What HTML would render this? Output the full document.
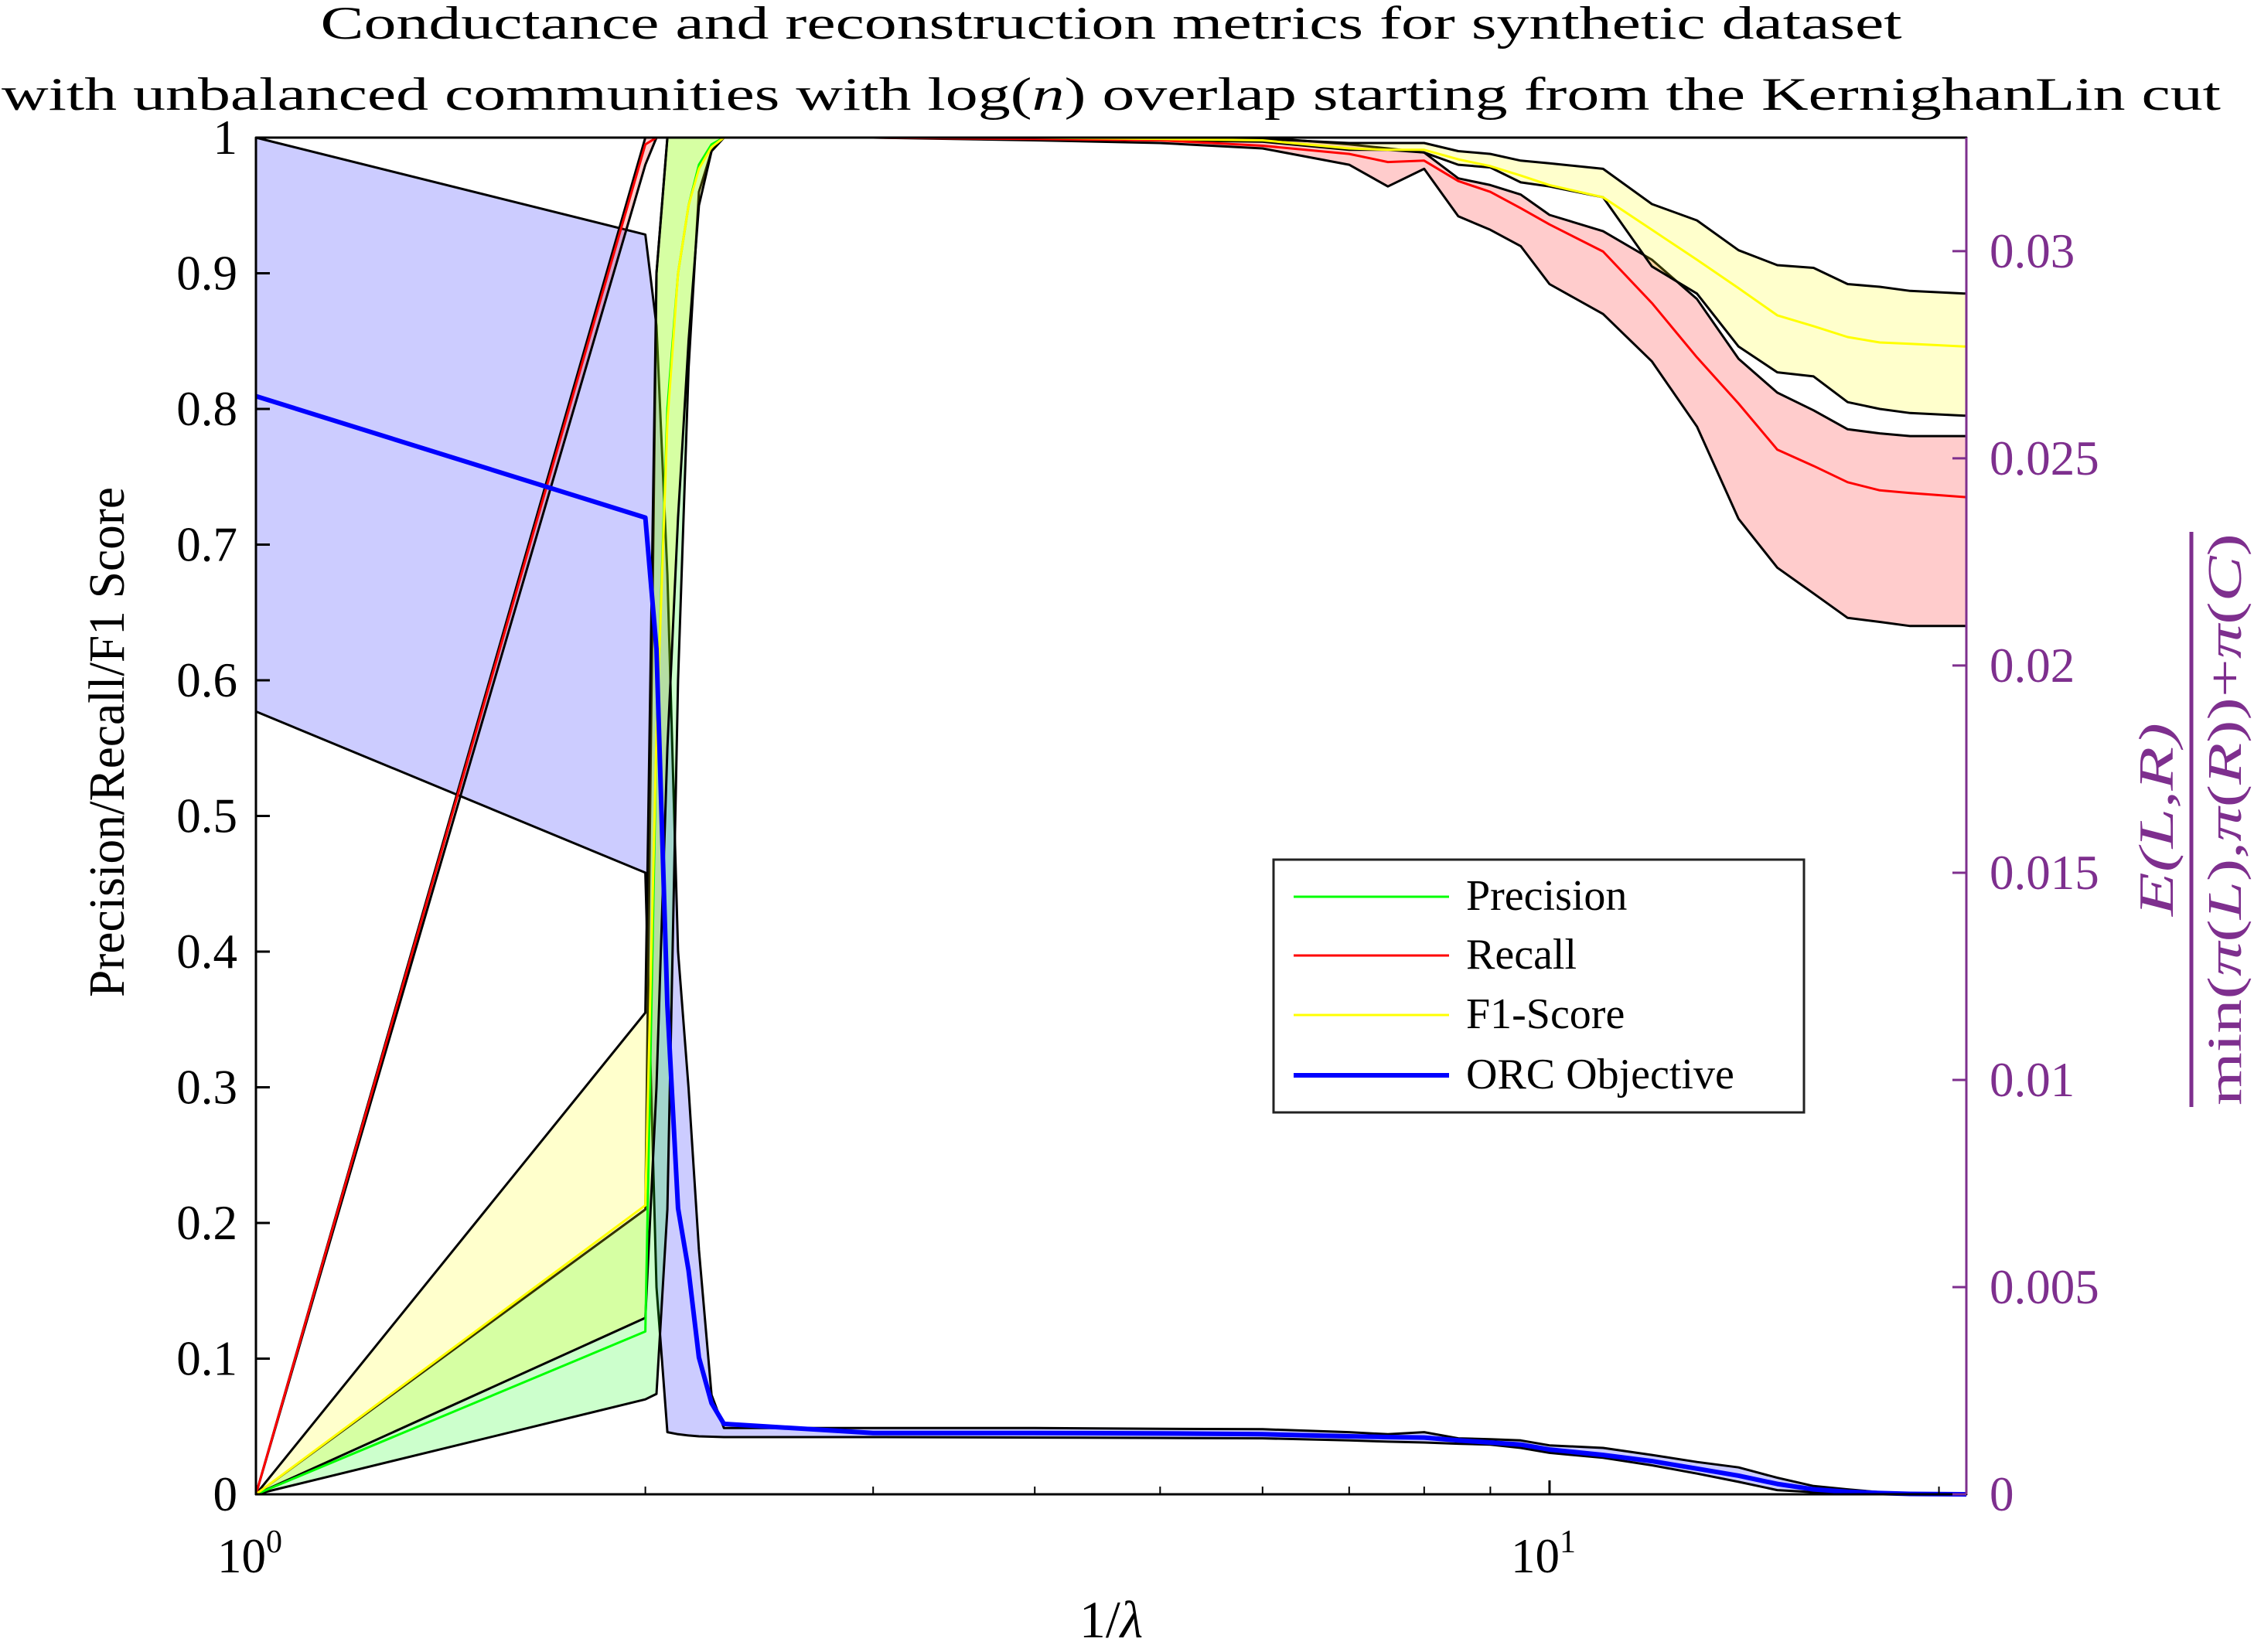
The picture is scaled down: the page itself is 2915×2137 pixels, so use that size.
<!DOCTYPE html>
<html><head><meta charset="utf-8"><style>
html,body{margin:0;padding:0;background:#fff;}
svg{display:block;}
text{font-family:"Liberation Serif",serif;}
</style></head><body>
<svg id="chart" width="2915" height="2137" viewBox="0 0 2915 2137" xmlns="http://www.w3.org/2000/svg">
<rect x="0" y="0" width="2915" height="2137" fill="#fff"/>
<g id="title">
<text x="1437" y="50" font-size="60" text-anchor="middle" textLength="2045" lengthAdjust="spacingAndGlyphs">Conductance and reconstruction metrics for synthetic dataset</text>
<text x="1437" y="142" font-size="60" text-anchor="middle" textLength="2870" lengthAdjust="spacingAndGlyphs">with unbalanced communities with log(<tspan font-style="italic">n</tspan>) overlap starting from the KernighanLin cut</text>
</g>
<g id="plot"></g>
<g id="axes"></g>
<g id="legend">
<rect x="1647" y="1112" width="686" height="327" fill="#fff" stroke="#222" stroke-width="3"/>
<g><line x1="1673" y1="1160" x2="1874" y2="1160" stroke="#00ff00" stroke-width="3"/><text x="1896" y="1177" font-size="56">Precision</text></g>
<g><line x1="1673" y1="1236" x2="1874" y2="1236" stroke="#ff0000" stroke-width="3"/><text x="1896" y="1253" font-size="56">Recall</text></g>
<g><line x1="1673" y1="1313" x2="1874" y2="1313" stroke="#ffff00" stroke-width="3"/><text x="1896" y="1330" font-size="56">F1-Score</text></g>
<g><line x1="1673" y1="1391" x2="1874" y2="1391" stroke="#0000ff" stroke-width="6"/><text x="1896" y="1408" font-size="56">ORC Objective</text></g>
</g>
</svg>
<script>
const xs = [1, 2, 2.04, 2.08, 2.12, 2.16, 2.2, 2.25, 2.3, 3, 4, 5, 6, 7, 7.5, 8, 8.5, 9, 9.5, 10, 11, 12, 13, 14, 15, 16, 17, 18, 19, 21];
const precMean = [0, 0.12, 0.56, 0.80, 0.90, 0.95, 0.98, 0.995, 1, 1, 1, 1, 1, 1, 1, 1, 1, 1, 1, 1, 1, 1, 1, 1, 1, 1, 1, 1, 1, 1];
const precUp = [0, 0.21, 0.90, 1, 1, 1, 1, 1, 1, 1, 1, 1, 1, 1, 1, 1, 1, 1, 1, 1, 1, 1, 1, 1, 1, 1, 1, 1, 1, 1];
const precLo = [0, 0.07, 0.074, 0.21, 0.60, 0.83, 0.96, 0.99, 1, 1, 1, 1, 1, 1, 1, 1, 1, 1, 1, 1, 1, 1, 1, 1, 1, 1, 1, 1, 1, 1];
const recMean = [0, 0.995, 1, 1, 1, 1, 1, 1, 1, 1, 0.999, 0.998, 0.994, 0.988, 0.982, 0.983, 0.968, 0.960, 0.948, 0.936, 0.916, 0.878, 0.838, 0.804, 0.770, 0.758, 0.746, 0.740, 0.738, 0.735];
const recUp = [0, 1, 1, 1, 1, 1, 1, 1, 1, 1, 1, 1, 1, 0.995, 0.992, 0.989, 0.970, 0.965, 0.958, 0.943, 0.931, 0.910, 0.881, 0.837, 0.812, 0.799, 0.785, 0.782, 0.780, 0.780];
const recLo = [0, 0.98, 1, 1, 1, 1, 1, 1, 1, 1, 0.998, 0.996, 0.992, 0.980, 0.964, 0.977, 0.942, 0.932, 0.920, 0.892, 0.870, 0.835, 0.787, 0.719, 0.683, 0.664, 0.646, 0.643, 0.640, 0.640];
const f1Mean = [0, 0.213, 0.56, 0.79, 0.90, 0.95, 0.977, 0.993, 1, 1, 1, 0.999, 0.998, 0.992, 0.991, 0.991, 0.984, 0.979, 0.972, 0.965, 0.956, 0.932, 0.910, 0.889, 0.869, 0.861, 0.853, 0.849, 0.848, 0.846];
const f1Up = [0, 0.355, 0.90, 1, 1, 1, 1, 1, 1, 1, 1, 1, 0.999, 0.996, 0.996, 0.996, 0.990, 0.988, 0.983, 0.981, 0.977, 0.951, 0.939, 0.917, 0.906, 0.904, 0.892, 0.890, 0.887, 0.885];
const f1Lo = [0, 0.13, 0.30, 0.55, 0.72, 0.85, 0.95, 0.99, 1, 1, 1, 0.998, 0.997, 0.991, 0.991, 0.989, 0.980, 0.978, 0.967, 0.964, 0.956, 0.905, 0.885, 0.846, 0.827, 0.824, 0.805, 0.800, 0.797, 0.795];
const orcMean = [0.0265, 0.02357, 0.0204, 0.0118, 0.0069, 0.0054, 0.0033, 0.0022, 0.0017, 0.00148, 0.00148, 0.00147, 0.00145, 0.0014, 0.00138, 0.00137, 0.0013, 0.00125, 0.0012, 0.00108, 0.00095, 0.0008, 0.00062, 0.00045, 0.00025, 0.00012, 0.00006, 0.00003, 0.00001, 0];
const orcUp = [0.03274, 0.0304, 0.0282, 0.0222, 0.0131, 0.0098, 0.0059, 0.0024, 0.0016, 0.0016, 0.0016, 0.00158, 0.00157, 0.0015, 0.00145, 0.0015, 0.00135, 0.00133, 0.0013, 0.00118, 0.00112, 0.00095, 0.00078, 0.00065, 0.0004, 0.0002, 0.00012, 0.00005, 0.00002, 0];
const orcLo = [0.01889, 0.0150, 0.005, 0.0015, 0.00145, 0.00142, 0.0014, 0.00139, 0.00138, 0.00138, 0.00137, 0.00136, 0.00135, 0.0013, 0.00127, 0.00125, 0.00122, 0.0012, 0.00112, 0.001, 0.00088, 0.0007, 0.0005, 0.0003, 0.0001, 0.00005, 0, 0, 0, 0];
const leftTicks = [0, 0.1, 0.2, 0.3, 0.4, 0.5, 0.6, 0.7, 0.8, 0.9, 1];
const leftTickLabels = ["0", "0.1", "0.2", "0.3", "0.4", "0.5", "0.6", "0.7", "0.8", "0.9", "1"];
const rightTicks = [0, 0.005, 0.01, 0.015, 0.02, 0.025, 0.03];
const rightTickLabels = ["0", "0.005", "0.01", "0.015", "0.02", "0.025", "0.03"];
const xMajor = [1, 10];
const xMinor = [2, 3, 4, 5, 6, 7, 8, 9, 20];

const L = 331, R = 2543, T = 178, B = 1933;
const XMIN = 1, XMAX = 21, RMAX = 0.03274;
const NS = "http://www.w3.org/2000/svg";
const X = v => L + (Math.log10(v) - Math.log10(XMIN)) / (Math.log10(XMAX) - Math.log10(XMIN)) * (R - L);
const Y = v => B - v * (B - T);
const YR = v => B - v / RMAX * (B - T);
const PURPLE = "#7e2f8e";
const plot = document.getElementById('plot');
const axes = document.getElementById('axes');
function mk(tag, attrs, parent) { const e = document.createElementNS(NS, tag); for (const k in attrs) e.setAttribute(k, attrs[k]); parent.appendChild(e); return e; }
function pts(arr, yf) { return arr.map((v, i) => X(xs[i]).toFixed(1) + ',' + yf(v).toFixed(1)); }
function band(up, lo, yf, fill, name) {
  const p = pts(up, yf).concat(pts(lo, yf).reverse());
  const e = mk('polygon', {points: p.join(' '), fill: fill, stroke: '#000', 'stroke-width': 3, 'stroke-linejoin': 'round'}, plot);
  
  
}
function line(arr, yf, color, w, name) {
  const e = mk('polyline', {points: pts(arr, yf).join(' '), fill: 'none', stroke: color, 'stroke-width': w, 'stroke-linejoin': 'round'}, plot);
  
  
}
band(orcUp, orcLo, YR, 'rgba(0,0,255,0.2)', 'orc-band');
band(precUp, precLo, Y, 'rgba(0,255,0,0.2)', 'precision-band');
band(recUp, recLo, Y, 'rgba(255,0,0,0.2)', 'recall-band');
band(f1Up, f1Lo, Y, 'rgba(255,255,0,0.2)', 'f1-band');
line(precMean, Y, '#00ff00', 3, 'precision-line');
line(recMean, Y, '#ff0000', 3, 'recall-line');
line(f1Mean, Y, '#ffff00', 3, 'f1-line');
line(orcMean, YR, '#0000ff', 6, 'orc-line');

let e;
e = mk('line', {x1: L, y1: T, x2: L, y2: B, stroke: '#000', 'stroke-width': 3}, axes);
 
e = mk('line', {x1: L, y1: B, x2: R, y2: B, stroke: '#000', 'stroke-width': 3}, axes);
 
e = mk('line', {x1: L, y1: T, x2: R, y2: T, stroke: '#000', 'stroke-width': 3}, axes);
 
e = mk('line', {x1: R, y1: T, x2: R, y2: B, stroke: PURPLE, 'stroke-width': 3}, axes);
 

leftTicks.forEach((v, i) => {
  const t = mk('line', {x1: L, y1: Y(v), x2: L + 18, y2: Y(v), stroke: '#000', 'stroke-width': 3}, axes);
   
  const tx = mk('text', {x: L - 24, y: Y(v) + 21, 'font-size': 63, 'text-anchor': 'end'}, axes);
  tx.textContent = leftTickLabels[i];
   
});
rightTicks.forEach((v, i) => {
  const t = mk('line', {x1: R - 18, y1: YR(v), x2: R, y2: YR(v), stroke: PURPLE, 'stroke-width': 3}, axes);
   
  const tx = mk('text', {x: R + 30, y: YR(v) + 21, 'font-size': 63, fill: PURPLE}, axes);
  tx.textContent = rightTickLabels[i];
   
});
xMajor.forEach(v => {
  const t = mk('line', {x1: X(v), y1: B, x2: X(v), y2: B - 18, stroke: '#000', 'stroke-width': 3}, axes);
   
  const tx = mk('text', {x: X(v) - 8, y: 2034, 'font-size': 63, 'text-anchor': 'middle'}, axes);
  tx.innerHTML = '10<tspan font-size="42" dy="-26">' + Math.round(Math.log10(v)) + '</tspan>';
   
});
xMinor.forEach(v => {
  const t = mk('line', {x1: X(v), y1: B, x2: X(v), y2: B - 10, stroke: '#000', 'stroke-width': 2}, axes);
   
});
e = mk('text', {x: 1437, y: 2118, 'font-size': 68, 'text-anchor': 'middle'}, axes);
e.innerHTML = '1/<tspan font-style="italic">λ</tspan>';
 
e = mk('text', {x: 0, y: 0, 'font-size': 66, 'text-anchor': 'middle', transform: 'translate(160,960) rotate(-90)', textLength: 660, lengthAdjust: 'spacingAndGlyphs'}, axes);
e.textContent = 'Precision/Recall/F1 Score';
 
const rl = mk('g', {transform: 'translate(2834,1060) rotate(-90)', fill: PURPLE}, axes);
 
e = mk('text', {x: 0, y: -24, 'font-size': 64, 'text-anchor': 'middle', 'font-style': 'italic', textLength: 250, lengthAdjust: 'spacingAndGlyphs'}, rl);
e.textContent = 'E(L,R)';
mk('line', {x1: -372, y1: 0, x2: 372, y2: 0, stroke: PURPLE, 'stroke-width': 5}, rl);
e = mk('text', {x: 0, y: 64, 'font-size': 62, 'text-anchor': 'middle', textLength: 740, lengthAdjust: 'spacingAndGlyphs'}, rl);
e.innerHTML = 'min(<tspan font-style="italic">π</tspan>(<tspan font-style="italic">L</tspan>),<tspan font-style="italic">π</tspan>(<tspan font-style="italic">R</tspan>))+<tspan font-style="italic">π</tspan>(<tspan font-style="italic">C</tspan>)';
</script>
</body></html>
